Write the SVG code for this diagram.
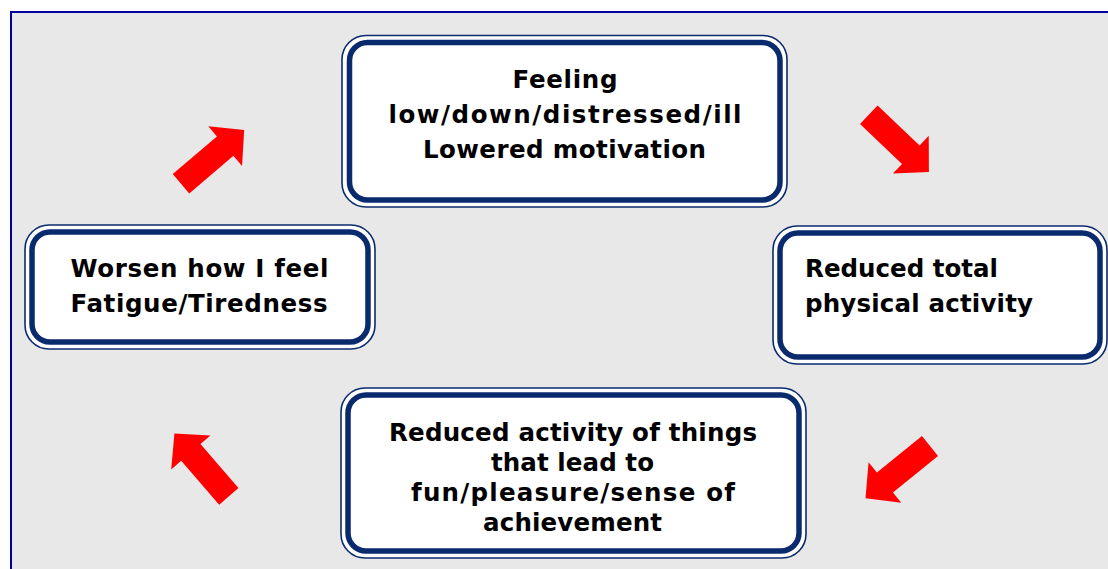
<svg xmlns="http://www.w3.org/2000/svg" width="1108" height="569" viewBox="0 0 1108 569">
<defs>
<style>
.outer{fill:#fff;stroke:#0a2a6e;stroke-width:1.6}
.inner{fill:#fff;stroke:#0a2a6e;stroke-width:5.5}
.t{font-family:"DejaVu Sans",Verdana,sans-serif;font-weight:bold;font-size:24.5px;fill:#000}
.c{text-anchor:middle}
.arr{fill:#ff0000}
</style>
<path id="arrow" d="M0,-12.75 L58,-12.75 L58,-26 L83,0 L58,26 L58,12.75 L0,12.75 Z"/>
</defs>
<rect x="0" y="0" width="1108" height="569" fill="#fff"/>
<rect x="11" y="12" width="1110" height="570" fill="#e8e8e8" stroke="#0000a0" stroke-width="2"/>
<g id="connectors" class="arr">
<use href="#arrow" transform="translate(181,183.7) rotate(-40.4)"/>
<use href="#arrow" transform="translate(868.8,114.7) rotate(43.6)"/>
<use href="#arrow" transform="translate(930,446) rotate(141)"/>
<use href="#arrow" transform="translate(228.8,496.3) rotate(-130.9)"/>
</g>
<g id="node-top">
<rect class="outer" x="342" y="35.5" width="445" height="171.5" rx="24"/>
<rect class="inner" x="349.5" y="42.5" width="430.5" height="157.5" rx="18"/>
<text class="t c" x="565" y="88.3" textLength="105" lengthAdjust="spacing">Feeling</text>
<text class="t c" x="565" y="123.3" textLength="353" lengthAdjust="spacing">low/down/distressed/ill</text>
<text class="t c" x="564.5" y="158.3" textLength="283" lengthAdjust="spacing">Lowered motivation</text>
</g>
<g id="node-right">
<rect class="outer" x="773" y="226" width="334" height="138" rx="24"/>
<rect class="inner" x="780" y="233" width="320" height="124" rx="18"/>
<text class="t" x="805" y="276.7" textLength="193" lengthAdjust="spacing">Reduced total</text>
<text class="t" x="805" y="311.7" textLength="228" lengthAdjust="spacing">physical activity</text>
</g>
<g id="node-bottom">
<rect class="outer" x="341" y="388" width="465" height="170" rx="24"/>
<rect class="inner" x="348" y="395" width="451" height="156" rx="18"/>
<text class="t c" x="573" y="440.7" textLength="368" lengthAdjust="spacing">Reduced activity of things</text>
<text class="t c" x="572.5" y="470.5" textLength="163" lengthAdjust="spacing">that lead to</text>
<text class="t c" x="573" y="500.5" textLength="324" lengthAdjust="spacing">fun/pleasure/sense of</text>
<text class="t c" x="572.5" y="530.5" textLength="179" lengthAdjust="spacing">achievement</text>
</g>
<g id="node-left">
<rect class="outer" x="25" y="225" width="350" height="124" rx="24"/>
<rect class="inner" x="32" y="232" width="336" height="110" rx="18"/>
<text class="t" x="70.5" y="276.7" textLength="258" lengthAdjust="spacing">Worsen how I feel</text>
<text class="t" x="70.5" y="311.7" textLength="257" lengthAdjust="spacing">Fatigue/Tiredness</text>
</g>
</svg>
